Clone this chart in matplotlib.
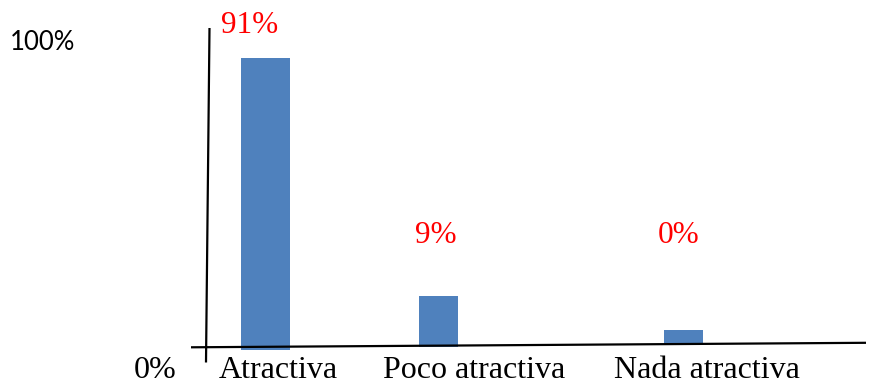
import matplotlib
matplotlib.use("Agg")
import matplotlib.pyplot as plt

categories = ["Atractiva", "Poco atractiva", "Nada atractiva"]
value_labels = ["91%", "9%", "0%"]
bar_heights = [91, 16.8, 6.2]        # bar tops as drawn in the picture (percent scale)
axis_labels = ["100%", "0%"]

# layout (pixel-like x positions, percent y)
bar_centers = [265.5, 438.5, 683.5]
bar_widths = [49, 39, 39]
bar_bottoms = [0, 1.0, 2.0]          # bars sit on the slanted axis line
label_x = [278, 474, 707]
value_x = [250, 436, 679]
value_baseline_px = [33, 243, 243]

W, H = 869, 384
fig = plt.figure(figsize=(W / 100, H / 100), dpi=100)
ax = fig.add_axes([0, 0, 1, 1])
px = 3.21  # pixels per percent
ax.set_xlim(0, W)
ax.set_ylim((350 - H) / px, 350 / px)
ax.axis("off")

def py(p):
    return (350 - p) / px

heights = [t - b for t, b in zip(bar_heights, bar_bottoms)]
ax.bar(bar_centers, heights, width=bar_widths, bottom=bar_bottoms, color="#4F81BD", zorder=2)

# hand-drawn axes
ax.plot([191, 866], [py(347.3), py(342.8)], color="black", lw=1.6, zorder=3, solid_capstyle="butt")
ax.plot([209.5, 206], [py(28), py(362.5)], color="black", lw=1.6, zorder=3, solid_capstyle="butt")

serif = "Liberation Serif"
for x, t, yb in zip(value_x, value_labels, value_baseline_px):
    ax.text(x, py(yb), t, color="red", fontsize=22.5, family=serif, ha="center", va="baseline")

for x, t in zip(label_x, categories):
    ax.text(x, py(378), t, color="black", fontsize=23, family=serif, ha="center", va="baseline")

ax.text(10, py(50), axis_labels[0], color="black", fontsize=18.5, family="Lato", ha="left", va="baseline")
ax.text(155, py(378), axis_labels[1], color="black", fontsize=23, family=serif, ha="center", va="baseline")

fig.savefig("out.png", dpi=100)
